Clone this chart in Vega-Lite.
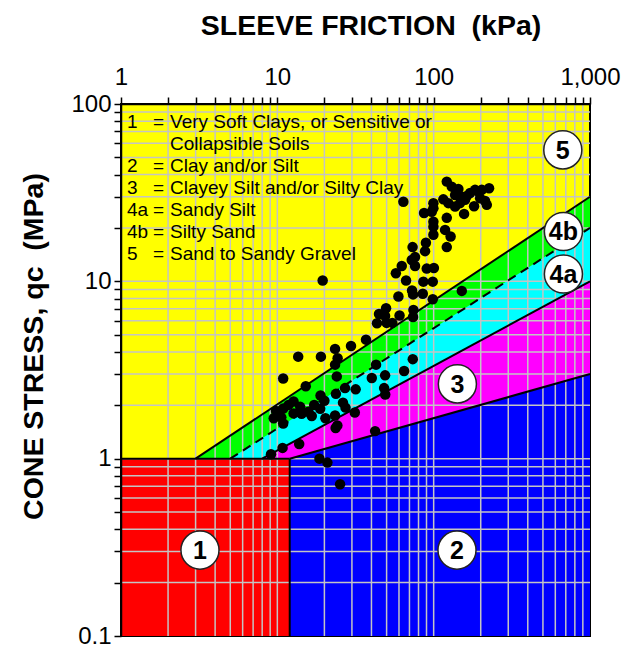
{
  "$schema": "https://vega.github.io/schema/vega-lite/v6.json",
  "width": 469,
  "height": 532,
  "autosize": {"type": "none"},
  "padding": {"left": 121, "top": 104, "right": 32, "bottom": 9},
  "background": "white",
  "config": {
    "font": "Liberation Sans",
    "view": {"fill": "#ffff00", "stroke": "#000000", "strokeWidth": 2}
  },
  "datasets": {
    "zone1": [{"zone": "1", "f": 1, "f2": 12, "q": 0.1, "q2": 1}],
    "zones": [
      {"zone": "4b", "f": 3, "q": 1, "base": 1},
      {"zone": "4b", "f": 1000, "q": 30, "base": 1},
      {"zone": "4a", "f": 5, "q": 1, "base": 1},
      {"zone": "4a", "f": 1000, "q": 20, "base": 1},
      {"zone": "3", "f": 8, "q": 1, "base": 1},
      {"zone": "3", "f": 1000, "q": 10, "base": 1},
      {"zone": "2", "f": 12, "q": 1, "base": 0.1},
      {"zone": "2", "f": 1000, "q": 3, "base": 0.1}
    ],
    "edges": [
      {"seg": "h", "f": 1, "q": 1},
      {"seg": "h", "f": 12, "q": 1},
      {"seg": "v", "f": 12, "q": 0.1},
      {"seg": "v", "f": 12, "q": 1}
    ],
    "gridx": [
      {"f": 2}, {"f": 3}, {"f": 4}, {"f": 5}, {"f": 6}, {"f": 7}, {"f": 8}, {"f": 9}, {"f": 10},
      {"f": 20}, {"f": 30}, {"f": 40}, {"f": 50}, {"f": 60}, {"f": 70}, {"f": 80}, {"f": 90}, {"f": 100},
      {"f": 200}, {"f": 300}, {"f": 400}, {"f": 500}, {"f": 600}, {"f": 700}, {"f": 800}, {"f": 900}
    ],
    "gridy": [
      {"q": 0.2}, {"q": 0.3}, {"q": 0.4}, {"q": 0.5}, {"q": 0.6}, {"q": 0.7}, {"q": 0.8}, {"q": 0.9}, {"q": 1},
      {"q": 2}, {"q": 3}, {"q": 4}, {"q": 5}, {"q": 6}, {"q": 7}, {"q": 8}, {"q": 9}, {"q": 10},
      {"q": 20}, {"q": 30}, {"q": 40}, {"q": 50}, {"q": 60}, {"q": 70}, {"q": 80}, {"q": 90}
    ],
    "labels": [
      {"lab": "5", "f": 670, "q": 55.1},
      {"lab": "4b", "f": 676, "q": 19.1},
      {"lab": "4a", "f": 676, "q": 11.0},
      {"lab": "3", "f": 141.8, "q": 2.64},
      {"lab": "1", "f": 3.2, "q": 0.305},
      {"lab": "2", "f": 141, "q": 0.305}
    ],
    "pts": [
      {"f": 121.3, "q": 36.5}, {"f": 130.5, "q": 34.2}, {"f": 143.9, "q": 33.2}, {"f": 137.1, "q": 30.7},
      {"f": 151.3, "q": 30.0}, {"f": 162.8, "q": 30.3}, {"f": 171.0, "q": 31.5}, {"f": 184.0, "q": 32.8},
      {"f": 193.2, "q": 32.1}, {"f": 203.1, "q": 32.8}, {"f": 226.2, "q": 33.5}, {"f": 198.2, "q": 29.4},
      {"f": 213.3, "q": 28.4}, {"f": 218.7, "q": 27.0}, {"f": 181.3, "q": 26.5}, {"f": 158.8, "q": 28.8},
      {"f": 147.5, "q": 27.6}, {"f": 137.1, "q": 26.4}, {"f": 124.2, "q": 27.6}, {"f": 115.3, "q": 29.0},
      {"f": 156.5, "q": 24.0}, {"f": 64.0, "q": 28.1}, {"f": 99.6, "q": 27.6}, {"f": 99.6, "q": 25.8},
      {"f": 97.2, "q": 24.7}, {"f": 86.8, "q": 24.3}, {"f": 121.3, "q": 22.8}, {"f": 99.6, "q": 21.7},
      {"f": 99.6, "q": 20.3}, {"f": 118.3, "q": 19.5}, {"f": 99.6, "q": 18.3}, {"f": 128.3, "q": 17.9},
      {"f": 89.2, "q": 16.5}, {"f": 73.3, "q": 15.6}, {"f": 121.3, "q": 15.6}, {"f": 88.1, "q": 14.8},
      {"f": 76.0, "q": 13.7}, {"f": 72.4, "q": 13.2}, {"f": 62.5, "q": 12.2}, {"f": 76.0, "q": 12.2},
      {"f": 90.3, "q": 11.8}, {"f": 100.3, "q": 11.9}, {"f": 57.3, "q": 11.1}, {"f": 66.6, "q": 10.1},
      {"f": 85.9, "q": 9.96}, {"f": 98.7, "q": 9.96}, {"f": 72.7, "q": 8.89}, {"f": 73.8, "q": 8.44},
      {"f": 85.2, "q": 8.52}, {"f": 59.5, "q": 8.22}, {"f": 98.7, "q": 7.93}, {"f": 151.3, "q": 8.83},
      {"f": 49.6, "q": 7.05}, {"f": 44.7, "q": 6.55}, {"f": 48.9, "q": 6.38}, {"f": 60.5, "q": 6.42},
      {"f": 74.2, "q": 6.90}, {"f": 73.8, "q": 6.30}, {"f": 43.4, "q": 5.80}, {"f": 50.0, "q": 5.83},
      {"f": 54.4, "q": 5.83}, {"f": 19.5, "q": 10.1}, {"f": 36.9, "q": 4.69}, {"f": 29.6, "q": 4.32},
      {"f": 23.4, "q": 4.16}, {"f": 13.6, "q": 3.76}, {"f": 19.0, "q": 3.76}, {"f": 24.3, "q": 3.68},
      {"f": 23.4, "q": 3.39}, {"f": 42.8, "q": 3.39}, {"f": 73.5, "q": 3.64}, {"f": 64.7, "q": 3.12},
      {"f": 40.2, "q": 2.85}, {"f": 48.9, "q": 2.95}, {"f": 10.9, "q": 2.83}, {"f": 24.0, "q": 2.91},
      {"f": 15.2, "q": 2.56}, {"f": 27.1, "q": 2.50}, {"f": 31.7, "q": 2.46}, {"f": 48.2, "q": 2.50},
      {"f": 49.0, "q": 2.30}, {"f": 23.7, "q": 2.32}, {"f": 18.9, "q": 2.27}, {"f": 20.0, "q": 2.12},
      {"f": 17.2, "q": 2.01}, {"f": 12.7, "q": 2.10}, {"f": 11.8, "q": 2.01}, {"f": 10.9, "q": 1.92},
      {"f": 9.81, "q": 1.86}, {"f": 14.0, "q": 1.96}, {"f": 26.3, "q": 2.07}, {"f": 27.3, "q": 1.94},
      {"f": 31.3, "q": 1.82}, {"f": 15.8, "q": 1.84}, {"f": 16.6, "q": 1.74}, {"f": 18.8, "q": 1.91},
      {"f": 20.3, "q": 1.69}, {"f": 9.48, "q": 1.69}, {"f": 10.6, "q": 1.71}, {"f": 10.9, "q": 1.58},
      {"f": 14.0, "q": 1.84}, {"f": 14.3, "q": 1.79}, {"f": 23.4, "q": 1.75}, {"f": 24.2, "q": 1.54},
      {"f": 23.6, "q": 1.49}, {"f": 42.2, "q": 1.43}, {"f": 13.8, "q": 1.21}, {"f": 10.8, "q": 1.15},
      {"f": 9.11, "q": 1.06}, {"f": 18.6, "q": 1.0}, {"f": 20.9, "q": 0.95}, {"f": 25.2, "q": 0.718},
      {"f": 12.7, "q": 1.80}
    ]
  },
  "layer": [
    {
      "data": {"name": "zone1"},
      "mark": {"type": "rect", "color": "#ff0000"},
      "encoding": {
        "x": {
          "field": "f",
          "type": "quantitative",
          "scale": {"type": "log", "domain": [1, 1000], "nice": false},
          "axis": {
            "orient": "top",
            "values": [1, 2, 3, 4, 5, 6, 7, 8, 9, 10, 20, 30, 40, 50, 60, 70, 80, 90, 100, 200, 300, 400, 500, 600, 700, 800, 900, 1000],
            "format": ",",
            "labelExpr": "indexof([1,10,100,1000], datum.value) >= 0 ? datum.label : ''",
            "labelOverlap": false,
            "labelFlush": false,
            "labelFont": "Liberation Sans",
            "labelFontSize": 24,
            "labelColor": "#000000",
            "labelBaseline": "alphabetic",
            "labelPadding": 13,
            "ticks": true,
            "tickSize": 7,
            "tickColor": "#000000",
            "tickWidth": 1.5,
            "tickOpacity": 1,
            "domainColor": "#000000",
            "domainWidth": 1.5,
            "grid": false,
            "zindex": 1,
            "title": "SLEEVE FRICTION\u00a0 (kPa)",
            "titleFont": "Liberation Sans",
            "titleFontSize": 28.5,
            "titleFontWeight": "bold",
            "titleColor": "#000000",
            "titleX": 249.5,
            "titleY": -70,
            "titleAlign": "center",
            "titleBaseline": "alphabetic"
          }
        },
        "x2": {"field": "f2"},
        "y": {
          "field": "q",
          "type": "quantitative",
          "scale": {"type": "log", "domain": [0.1, 100], "nice": false},
          "axis": {
            "orient": "left",
            "values": [0.1, 0.2, 0.3, 0.4, 0.5, 0.6, 0.7, 0.8, 0.9, 1, 2, 3, 4, 5, 6, 7, 8, 9, 10, 20, 30, 40, 50, 60, 70, 80, 90, 100],
            "format": ",",
            "labelExpr": "indexof([0.1,1,10,100], datum.value) >= 0 ? datum.label : ''",
            "labelOverlap": false,
            "labelFlush": false,
            "labelFont": "Liberation Sans",
            "labelFontSize": 24,
            "labelColor": "#000000",
            "labelPadding": 3,
            "ticks": true,
            "tickSize": 7,
            "tickColor": "#000000",
            "tickWidth": 1.5,
            "tickOpacity": 1,
            "domainColor": "#000000",
            "domainWidth": 1.5,
            "grid": false,
            "zindex": 1,
            "title": "CONE STRESS, qc\u00a0 (MPa)",
            "titleFont": "Liberation Sans",
            "titleFontSize": 28.5,
            "titleFontWeight": "bold",
            "titleColor": "#000000",
            "titleAngle": 270,
            "titleX": -79,
            "titleY": 242,
            "titleAlign": "center",
            "titleBaseline": "alphabetic"
          }
        },
        "y2": {"field": "q2"}
      }
    },
    {
      "data": {"name": "zones"},
      "transform": [{"filter": "datum.zone == '4b'"}],
      "mark": {"type": "area", "color": "#00ff00", "opacity": 1},
      "encoding": {
        "x": {"field": "f", "type": "quantitative", "scale": {"type": "log", "domain": [1, 1000], "nice": false}},
        "y": {"field": "q", "type": "quantitative", "scale": {"type": "log", "domain": [0.1, 100], "nice": false}},
        "y2": {"field": "base"}
      }
    },
    {
      "data": {"name": "zones"},
      "transform": [{"filter": "datum.zone == '4a'"}],
      "mark": {"type": "area", "color": "#00ffff", "opacity": 1},
      "encoding": {
        "x": {"field": "f", "type": "quantitative", "scale": {"type": "log", "domain": [1, 1000], "nice": false}},
        "y": {"field": "q", "type": "quantitative", "scale": {"type": "log", "domain": [0.1, 100], "nice": false}},
        "y2": {"field": "base"}
      }
    },
    {
      "data": {"name": "zones"},
      "transform": [{"filter": "datum.zone == '3'"}],
      "mark": {"type": "area", "color": "#ff00ff", "opacity": 1},
      "encoding": {
        "x": {"field": "f", "type": "quantitative", "scale": {"type": "log", "domain": [1, 1000], "nice": false}},
        "y": {"field": "q", "type": "quantitative", "scale": {"type": "log", "domain": [0.1, 100], "nice": false}},
        "y2": {"field": "base"}
      }
    },
    {
      "data": {"name": "zones"},
      "transform": [{"filter": "datum.zone == '2'"}],
      "mark": {"type": "area", "color": "#0000ff", "opacity": 1},
      "encoding": {
        "x": {"field": "f", "type": "quantitative", "scale": {"type": "log", "domain": [1, 1000], "nice": false}},
        "y": {"field": "q", "type": "quantitative", "scale": {"type": "log", "domain": [0.1, 100], "nice": false}},
        "y2": {"field": "base"}
      }
    },
    {
      "data": {"name": "gridx"},
      "mark": {"type": "rule", "color": "#c4c4c4", "strokeWidth": 1.5},
      "encoding": {
        "x": {"field": "f", "type": "quantitative", "scale": {"type": "log", "domain": [1, 1000], "nice": false}},
        "y": {"datum": 0.1, "type": "quantitative", "scale": {"type": "log", "domain": [0.1, 100], "nice": false}},
        "y2": {"datum": 100}
      }
    },
    {
      "data": {"name": "gridy"},
      "mark": {"type": "rule", "color": "#c4c4c4", "strokeWidth": 1.5},
      "encoding": {
        "y": {"field": "q", "type": "quantitative", "scale": {"type": "log", "domain": [0.1, 100], "nice": false}},
        "x": {"datum": 1, "type": "quantitative", "scale": {"type": "log", "domain": [1, 1000], "nice": false}},
        "x2": {"datum": 1000}
      }
    },
    {
      "data": {"name": "zones"},
      "transform": [{"filter": "datum.zone != '4a'"}],
      "mark": {"type": "line", "color": "#000000", "strokeWidth": 2},
      "encoding": {
        "x": {"field": "f", "type": "quantitative", "scale": {"type": "log", "domain": [1, 1000], "nice": false}},
        "y": {"field": "q", "type": "quantitative", "scale": {"type": "log", "domain": [0.1, 100], "nice": false}},
        "detail": {"field": "zone"}
      }
    },
    {
      "data": {"name": "zones"},
      "transform": [{"filter": "datum.zone == '4a'"}],
      "mark": {"type": "line", "color": "#000000", "strokeWidth": 2, "strokeDash": [9, 6]},
      "encoding": {
        "x": {"field": "f", "type": "quantitative", "scale": {"type": "log", "domain": [1, 1000], "nice": false}},
        "y": {"field": "q", "type": "quantitative", "scale": {"type": "log", "domain": [0.1, 100], "nice": false}}
      }
    },
    {
      "data": {"name": "edges"},
      "mark": {"type": "line", "color": "#000000", "strokeWidth": 2},
      "encoding": {
        "x": {"field": "f", "type": "quantitative", "scale": {"type": "log", "domain": [1, 1000], "nice": false}},
        "y": {"field": "q", "type": "quantitative", "scale": {"type": "log", "domain": [0.1, 100], "nice": false}},
        "detail": {"field": "seg"}
      }
    },
    {
      "data": {"name": "pts"},
      "mark": {"type": "point", "shape": "circle", "filled": true, "color": "#000000", "opacity": 1, "size": 110},
      "encoding": {
        "x": {"field": "f", "type": "quantitative", "scale": {"type": "log", "domain": [1, 1000], "nice": false}},
        "y": {"field": "q", "type": "quantitative", "scale": {"type": "log", "domain": [0.1, 100], "nice": false}}
      }
    },
    {
      "data": {"name": "labels"},
      "mark": {"type": "point", "shape": "circle", "filled": true, "fill": "#ffffff", "stroke": "#222222", "strokeWidth": 1.5, "opacity": 1, "size": 1450},
      "encoding": {
        "x": {"field": "f", "type": "quantitative", "scale": {"type": "log", "domain": [1, 1000], "nice": false}},
        "y": {"field": "q", "type": "quantitative", "scale": {"type": "log", "domain": [0.1, 100], "nice": false}}
      }
    },
    {
      "data": {"name": "labels"},
      "mark": {"type": "text", "font": "Liberation Sans", "fontSize": 25, "fontWeight": "bold", "color": "#000000", "align": "center", "baseline": "middle", "dy": 1},
      "encoding": {
        "x": {"field": "f", "type": "quantitative", "scale": {"type": "log", "domain": [1, 1000], "nice": false}},
        "y": {"field": "q", "type": "quantitative", "scale": {"type": "log", "domain": [0.1, 100], "nice": false}},
        "text": {"field": "lab"}
      }
    },
    {
      "data": {"values": [{}]},
      "mark": {"type": "text", "font": "Liberation Sans", "fontSize": 19, "color": "#000000", "align": "left", "baseline": "alphabetic", "lineHeight": 21.9,
        "text": ["1"]},
      "encoding": {
        "x": {"datum": 1.093, "type": "quantitative", "scale": {"type": "log", "domain": [1, 1000], "nice": false}},
        "y": {"datum": 72.9, "type": "quantitative", "scale": {"type": "log", "domain": [0.1, 100], "nice": false}}
      }
    },
    {
      "data": {"values": [{}]},
      "mark": {"type": "text", "font": "Liberation Sans", "fontSize": 19, "color": "#000000", "align": "left", "baseline": "alphabetic", "lineHeight": 21.9,
        "text": ["2", "3", "4a", "4b", "5"]},
      "encoding": {
        "x": {"datum": 1.093, "type": "quantitative", "scale": {"type": "log", "domain": [1, 1000], "nice": false}},
        "y": {"datum": 41.24, "type": "quantitative", "scale": {"type": "log", "domain": [0.1, 100], "nice": false}}
      }
    },
    {
      "data": {"values": [{}]},
      "mark": {"type": "text", "font": "Liberation Sans", "fontSize": 19, "color": "#000000", "align": "left", "baseline": "alphabetic", "lineHeight": 21.9,
        "text": ["="]},
      "encoding": {
        "x": {"datum": 1.602, "type": "quantitative", "scale": {"type": "log", "domain": [1, 1000], "nice": false}},
        "y": {"datum": 72.9, "type": "quantitative", "scale": {"type": "log", "domain": [0.1, 100], "nice": false}}
      }
    },
    {
      "data": {"values": [{}]},
      "mark": {"type": "text", "font": "Liberation Sans", "fontSize": 19, "color": "#000000", "align": "left", "baseline": "alphabetic", "lineHeight": 21.9,
        "text": ["=", "=", "=", "=", "="]},
      "encoding": {
        "x": {"datum": 1.602, "type": "quantitative", "scale": {"type": "log", "domain": [1, 1000], "nice": false}},
        "y": {"datum": 41.24, "type": "quantitative", "scale": {"type": "log", "domain": [0.1, 100], "nice": false}}
      }
    },
    {
      "data": {"values": [{}]},
      "mark": {"type": "text", "font": "Liberation Sans", "fontSize": 19, "color": "#000000", "align": "left", "baseline": "alphabetic", "lineHeight": 21.9,
        "text": ["Very Soft Clays, or Sensitive or", "Collapsible Soils", "Clay and/or Silt", "Clayey Silt and/or Silty Clay", "Sandy Silt", "Silty Sand", "Sand to Sandy Gravel"]},
      "encoding": {
        "x": {"datum": 2.058, "type": "quantitative", "scale": {"type": "log", "domain": [1, 1000], "nice": false}},
        "y": {"datum": 72.9, "type": "quantitative", "scale": {"type": "log", "domain": [0.1, 100], "nice": false}}
      }
    }
  ]
}
